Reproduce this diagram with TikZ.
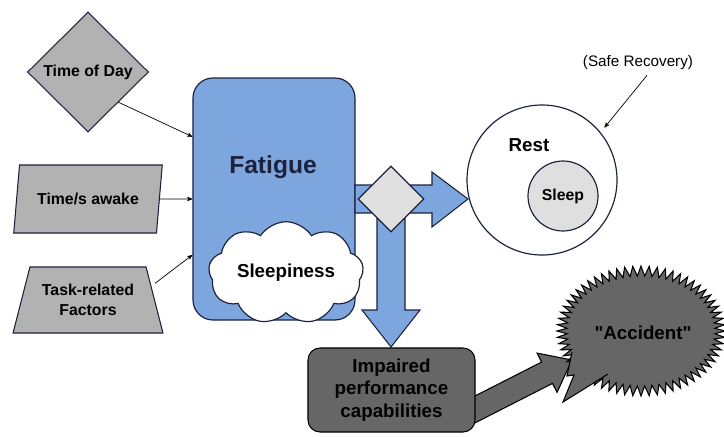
\documentclass[tikz,border=0pt]{standalone}
\usepackage{fontspec}
\setmainfont{Liberation Sans}[Ligatures=TeXOff]
\usetikzlibrary{arrows,shapes,positioning,calc}
\definecolor{fatigue-blue}{RGB}{125,165,222}
\definecolor{edge-navy}{RGB}{28,34,60}

\begin{document}
\begin{tikzpicture}
    [x=0.03cm, y=-0.03cm,
    input/.style = {draw=edge-navy, fill=gray!60, line width=0.9pt, inner sep=0pt, align=center,
      font=\bfseries\fontsize{13.5}{17}\selectfont},
    state/.style = {draw=edge-navy, line width=1pt, align=center},
    outcome/.style = {draw=black, fill=black!60, line width=0.9pt, align=center,
      font=\bfseries\fontsize{16}{19}\selectfont},
    big arrow/.style = {draw=edge-navy, line width=0.9pt, line join=miter},
    post/.style={->, >=stealth', semithick}]

    \useasboundingbox (0,0) rectangle (724,436);

    % causes
    \node [input, shape=diamond, minimum width=3.63cm, minimum height=3.6cm] (tod) at (88,72) {Time of Day};
    \node [input, trapezium, trapezium left angle=70, trapezium right angle=110, trapezium stretches=true,
      minimum width=4.47cm, minimum height=2.04cm] (awake) at (88,199) {Time/s awake};
    \node [input, trapezium, trapezium left angle=67, trapezium right angle=67, trapezium stretches=true,
      minimum width=4.5cm, minimum height=1.98cm] (task) at (88,300) {Task-related\\Factors};

    % fatigue
    \node [state, fill=fatigue-blue, rounded corners=0.6cm, minimum width=4.86cm, minimum height=7.26cm] (fatigue) at (274,199) {};
    \node [text=edge-navy, font=\bfseries\fontsize{21}{24}\selectfont] (fatigue label) at (273,167) {Fatigue};
    \node [state, cloud, cloud puffs=9, cloud puff arc=115, aspect=1.7, fill=white, inner sep=0pt,
      minimum width=4.65cm, minimum height=2.8cm, font=\bfseries\fontsize{16}{19}\selectfont] (sleepiness) at (286,273) {Sleepiness};

    % split into rest / impairment
    \filldraw [big arrow, fill=fatigue-blue] (355,185) -- (432,185) -- (432,172) -- (468,199) -- (432,227) -- (432,213)
      -- (405,213) -- (405,310) -- (420,310) -- (391,347) -- (362,310) -- (377,310) -- (377,213) -- (355,213) -- cycle;
    \node [state, diamond, fill=gray!25, minimum size=1.98cm, inner sep=0pt] (branch) at (391,199) {};

    \node [state, circle, fill=white, minimum size=4.5cm] (rest) at (542,180) {};
    \node [font=\bfseries\fontsize{16}{19}\selectfont] (rest label) at (529,145) {Rest};
    \node [state, circle, fill=gray!25, minimum size=2.1cm, font=\bfseries\fontsize{13.5}{16}\selectfont] (sleep) at (563,196) {Sleep};
    \node [font=\fontsize{13}{16}\selectfont, inner sep=0pt] (safe) at (638,63) {(Safe Recovery)};

    % accident path
    \begin{scope}[shift={(572,360)}, rotate=27]
      \filldraw [big arrow, draw=black, fill=black!60] (0,0) -- (-28,-22) -- (-28,-12) -- (-125,-12) -- (-125,12) -- (-28,12) -- (-28,22) -- cycle;
    \end{scope}
    \node [outcome, rounded corners=0.36cm, minimum width=5.01cm, minimum height=2.52cm] (impaired) at (391.5,390) {Impaired\\performance\\capabilities};
    \node [outcome, starburst, starburst points=64, starburst point height=0.3cm, random starburst=0,
      minimum width=5.04cm, minimum height=3.9cm, inner sep=0pt] (accident) at (641,331) {};
    \fill [black!60] (572,352) -- (567,376) -- (574,375) -- (563,402) -- (608,374) -- (600,350) -- cycle;
    \draw [line width=0.9pt, line join=miter] (572,352) -- (567,376) -- (574,375) -- (563,402) -- (608,374);
    \node [font=\bfseries\fontsize{16}{19}\selectfont] (accident label) at (643,333) {"Accident"};

    \draw [post] (tod.south east) -- ($(fatigue.north west)!0.244!(fatigue.south west)$);
    \draw [post] (awake.east) -- (fatigue.west);
    \draw [post] ([yshift=0.5cm]task.east) -- ($(fatigue.north west)!0.73!(fatigue.south west)$);
    \draw [post] ([xshift=0.27cm,yshift=-0.15cm]safe.south) -- ($(rest.center)!1.08!(rest.40)$);
  \end{tikzpicture}
\end{document}
